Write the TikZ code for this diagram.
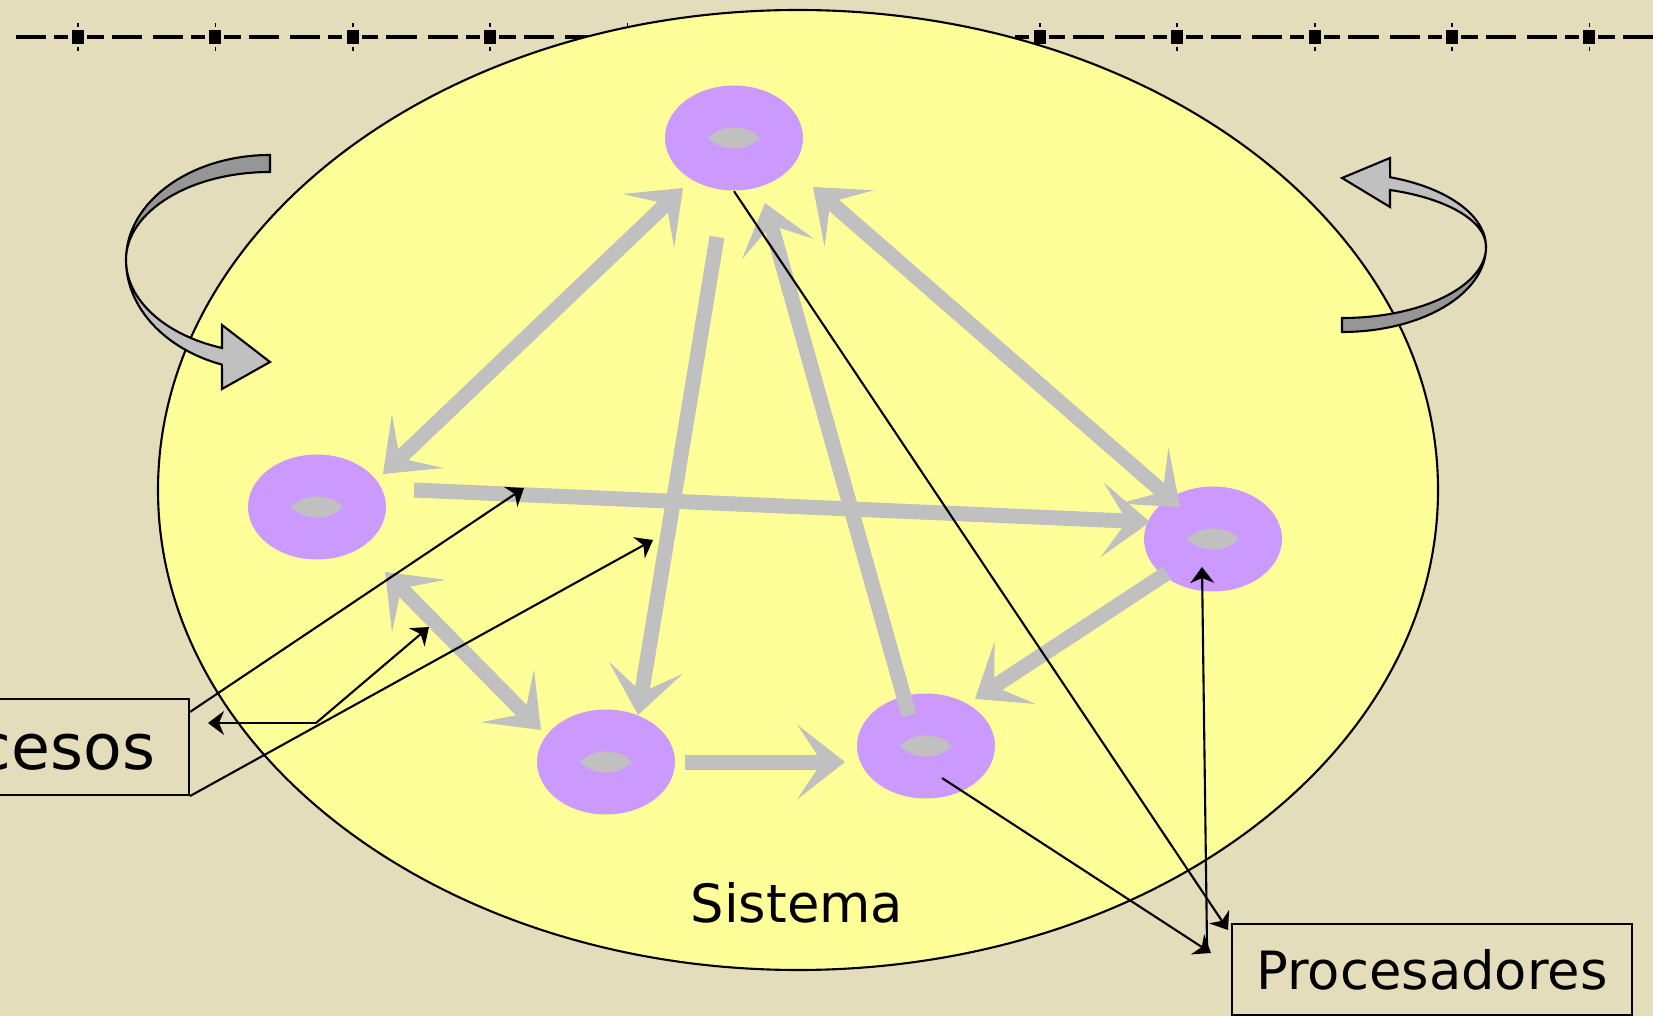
\documentclass[tikz,border=0pt]{standalone}
\usepackage{fontspec}
\setmainfont{DejaVu Sans}
\usetikzlibrary{shapes.geometric,arrows.meta,calc}
\definecolor{paper}{RGB}{228,221,188}
\definecolor{sysyellow}{RGB}{255,255,153}
\definecolor{procviolet}{RGB}{204,153,255}
\definecolor{linkgray}{RGB}{192,192,192}
\definecolor{shadegray}{RGB}{150,150,150}
\tikzset{
  linkhead/.tip={Stealth[length=4.8mm,width=7.5mm,inset=2.5mm,line width=0pt]},
  ptrhead/.tip={Stealth[length=1.6mm,width=2.4mm,inset=0.5mm]},
  proc/.style={ellipse,fill=procviolet,minimum width=13.8mm,minimum height=10.5mm,inner sep=0pt},
  link/.style={draw=linkgray,line width=1.5mm,-linkhead},
  ptr/.style={draw=black,line width=0.6pt,-ptrhead},
  ribbonhi/.style={fill=linkgray,draw=black,line width=0.6pt},
  ribbonlo/.style={fill=shadegray,draw=black,line width=0.6pt},
  labelbox/.style={draw=black,line width=0.6pt,inner sep=0pt,inner xsep=2.4mm},
  ruler/.style={line width=0.9pt}
}
\begin{document}
\begin{tikzpicture}[x=0.1mm,y=-0.1mm]
 \useasboundingbox (0,0) rectangle (1653,1016);
 \fill[paper] (0,0) rectangle (1653,1016);
 \clip (0,0) rectangle (1653,1016);
 % ruler along the top
 \draw[ruler] (15.6,37)--(45.6,37) (53.6,37)--(67.6,37);
 \foreach \k [evaluate=\k as \m using 78+137.4*\k] in {0,...,11}{
  \draw[ruler] (\m+9,37)--(\m+25.6,37) (\m+33.6,37)--(\m+64,37) (\m+75,37)--(\m+105,37) (\m+113,37)--(\m+127,37);
  \fill (\m-6,30) rectangle (\m+6,44);
  \draw[line width=0.5pt] (\m,23)--(\m,27) (\m,47)--(\m,51);
 }
 \node[ellipse,draw,line width=0.6pt,fill=sysyellow,minimum width=128mm,minimum height=96mm,inner sep=0pt] (sistema) at (798,490) {};
 \node[font=\fontsize{15}{18}\selectfont] (sistemalbl) at (797,903) {Sistema};
 \node[proc] (ptop) at (734,138) {};
 \node[proc] (pleft) at (317,507) {};
 \node[proc] (pright) at (1213,539) {};
 \node[proc] (pbl) at (606,762) {};
 \node[proc] (pbr) at (926,746) {};
 \foreach \p in {ptop,pleft,pright,pbl,pbr}
  \fill[linkgray,shift={(\p)}] (-26,0) .. controls (-12,-14) and (12,-14) .. (26,0) .. controls (12,14) and (-12,14) .. (-26,0) -- cycle;
 \draw[link,linkhead-linkhead] ($(ptop)+(-51,50)$) -- ($(pleft)+(66,-33)$);
 \draw[link] ($(ptop)+(-17,99)$) -- ($(pbl)+(32,-47)$);
 \draw[link] ($(pbr)+(-17,-31)$) -- ($(ptop)+(31,65)$);
 \draw[link,linkhead-linkhead] ($(ptop)+(79,49)$) -- ($(pright)+(-33,-32)$);
 \draw[link] ($(pleft)+(97,-17)$) -- ($(pright)+(-63,-17)$);
 \draw[link] ($(pright)+(-46,34)$) -- ($(pbr)+(49,-47)$);
 \draw[link,linkhead-linkhead] ($(pleft)+(68,65)$) -- ($(pbl)+(-65,-32)$);
 \draw[link] ($(pbl)+(79,0)$) -- ($(pbr)+(-81,16)$);
 % turning arrows
 \filldraw[ribbonlo] (270,155) arc[start angle=90,end angle=180,x radius=14.4mm,y radius=10.5mm] arc[start angle=180,end angle=90,x radius=14.4mm,y radius=8.8mm] -- cycle;
 \filldraw[ribbonhi] (126,260) arc[start angle=180,end angle=250.5,x radius=14.4mm,y radius=11.1mm] -- (222,389) -- (270,362) -- (222,325) -- (222,348) arc[start angle=250.5,end angle=180,x radius=14.4mm,y radius=9.3mm] -- cycle;
 \filldraw[ribbonhi] (1486,247) arc[start angle=0,end angle=70.5,x radius=14.4mm,y radius=7.4mm] -- (1390,158) -- (1342,178) -- (1390,207) -- (1390,190) arc[start angle=70.5,end angle=0,x radius=14.4mm,y radius=6mm] -- cycle;
 \filldraw[ribbonlo] (1486,247) arc[start angle=0,end angle=-90,x radius=14.4mm,y radius=8.5mm] -- (1342,318) arc[start angle=-90,end angle=0,x radius=14.4mm,y radius=7.1mm] -- cycle;
 \node[labelbox,anchor=east,inner xsep=3.4mm,minimum height=9.6mm,font=\fontsize{18}{22}\selectfont] (procesos) at (190,747) {Procesos};
 \node[labelbox,anchor=north west,minimum width=40mm,minimum height=9.1mm,font=\fontsize{15}{18}\selectfont] (procesadores) at (1231,923) {Procesadores};
 \coordinate (procjoin) at (316,723);
 \coordinate (onlinkA) at (524,488);
 \coordinate (onlinkB) at (653,540);
 \coordinate (onlinkC) at (429,627);
 \coordinate (nearbox) at (208,723);
 \draw[ptr] ($(procesos.north east)+(0,14)$) -- (onlinkA);
 \draw[ptr] (procesos.south east) -- (onlinkB);
 \draw[ptr] (procjoin) -- (nearbox);
 \draw[ptr] (procjoin) -- (onlinkC);
 \draw[ptr] (ptop.south) -- ($(procesadores.north west)+(-3,7)$);
 \draw[ptr] ($(pbr)+(16,32)$) -- ($(procesadores.north west)+(-20,30)$);
 \draw[ptr] ($(procesadores.north west)+(-24,22)$) -- ($(pright)+(-11,28)$);
\end{tikzpicture}
\end{document}
